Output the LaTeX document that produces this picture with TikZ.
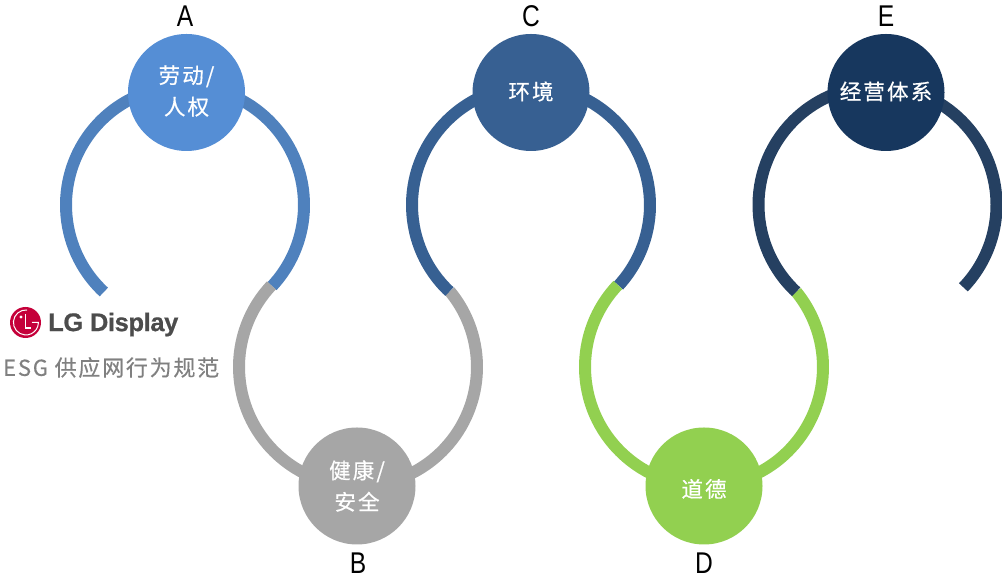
\documentclass[tikz,border=0pt]{standalone}
\usepackage{fontspec}
\setmainfont{Liberation Sans}
\newfontfamily\cjk[LetterSpace=10,FakeBold=0.5]{Noto Sans CJK SC}
\newfontfamily\cjkesg[LetterSpace=8,FakeBold=0.4]{Noto Sans CJK SC}
\newfontfamily\lgfont[FakeBold=0.7,LetterSpace=-1.5]{Liberation Sans Bold}
\newcommand{\dn}[2]{\raisebox{#1}[\height][\depth]{#2}}
\definecolor{arcA}{HTML}{4F81BD}
\definecolor{dotA}{HTML}{558ED5}
\definecolor{grayB}{HTML}{A6A6A6}
\definecolor{arcC}{HTML}{376092}
\definecolor{greenD}{HTML}{92D050}
\definecolor{arcE}{HTML}{254061}
\definecolor{dotE}{HTML}{17375E}
\definecolor{lgred}{HTML}{C5003A}
\tikzset{
  ring/.style={line width=12pt,line cap=butt},
  dot/.style={circle,minimum size=117pt,inner sep=0pt,text=white,align=center,
    font=\fontsize{21.5}{31.5}\cjk},
  letter/.style={font=\fontsize{30}{30}\selectfont,xscale=.82,text=black,inner sep=0pt},
}
\begin{document}
\begin{tikzpicture}[x=1pt,y=1pt]
\useasboundingbox (0,0) rectangle (1002,580);
% arc end points
\coordinate (aL) at ({185+119*cos(227)},{375+119*sin(227)});
\coordinate (jab) at ({358+119*cos(136.7)},{213+119*sin(136.7)});
\coordinate (jbc) at ({531+119*cos(226.7)},{375+119*sin(226.7)});
\coordinate (jcd) at ({704+119*cos(136.4)},{213+119*sin(136.4)});
\coordinate (jde) at ({877.5+119*cos(226.9)},{375+119*sin(226.9)});
% rings
\draw[ring,arcA] (aL) arc[start angle=227,end angle=-43,radius=119];
\draw[ring,grayB] (jab) arc[start angle=136.7,end angle=399.6,radius=119];
\draw[ring,arcC] (jbc) arc[start angle=226.7,end angle=-42.6,radius=119];
\draw[ring,greenD] (jcd) arc[start angle=136.4,end angle=399.2,radius=119];
\draw[ring,arcE] (jde) arc[start angle=226.9,end angle=-43.8,radius=119];
% circles
\node[dot,fill=dotA] (A) at (186.5,487.5) {\dn{1.5pt}{劳动/}\\\dn{1.5pt}{人权}};
\node[dot,fill=grayB] (B) at (357,94) {健康/\\安全};
\node[dot,fill=arcC] (C) at (531,487.5) {\dn{1pt}{环境}};
\node[dot,fill=greenD] (D) at (704,94) {\dn{-3pt}{道德}};
\node[dot,fill=dotE] (E) at (886,487.5) {\dn{1pt}{经营体系}};
% letters
\node[letter] (la) at (185,564) {A};
\node[letter] (lb) at (358,17) {B};
\node[letter] (lc) at (531,564) {C};
\node[letter] (ld) at (704,17) {D};
\node[letter] (le) at (886,564) {E};
% logo
\node[circle,fill=lgred,minimum size=31pt,inner sep=0pt] (logo) at (25.5,257.5) {};
\draw[white,line width=1pt] (27,270) arc[start angle=85,end angle=360,radius=12.5] -- (32,257.5);
\fill[white] (21,263) circle (1.6pt);
\draw[white,line width=1.3pt] (25.5,266) -- (25.5,252) -- (31,252);
\node[anchor=west,inner sep=0pt,text=black!70!white,font=\fontsize{25.5}{26}\lgfont] (lgt) at (48,255.5) {LG Display};
\node[anchor=west,inner sep=0pt,text=black!50!white,font=\fontsize{22}{22}\cjkesg] (esg) at (3,212.5) {ESG 供应网行为规范};
\end{tikzpicture}
\end{document}
